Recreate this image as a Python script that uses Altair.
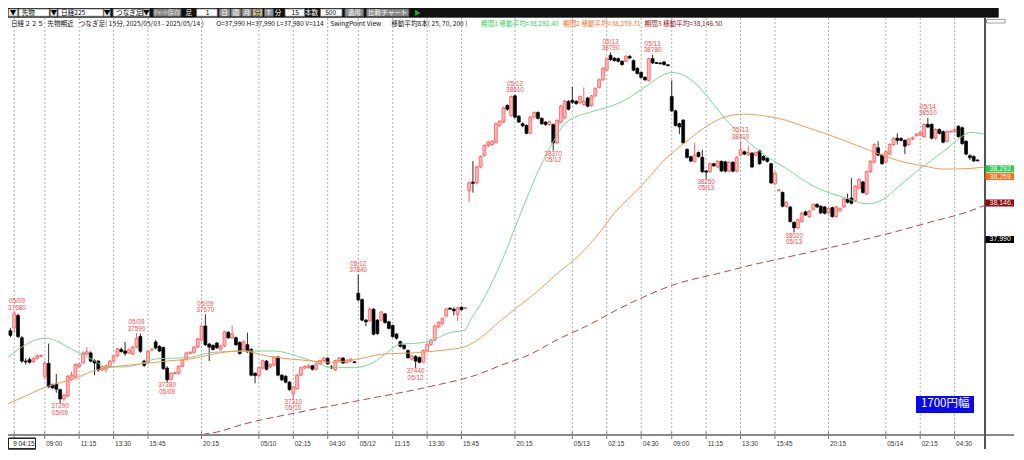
import altair as alt
import pandas as pd
import numpy as np

# ---------------- data ----------------
first_bar = -9  # bar index 0 = 05/09 09:00, 15-minute bars
opens = [37600,37612,37665,37570,37470,37476,37468,37482,37490,37405,
 37460,37368,37372,37348,37308,37320,37392,37402,37447,37462,
 37500,37505,37472,37470,37432,37435,37446,37470,37492,37520,
 37513,37505,37500,37530,37575,37470,37466,37518,37552,37533,
 37528,37440,37392,37418,37418,37448,37478,37503,37507,37530,
 37560,37620,37543,37537,37547,37520,37535,37593,37570,37570,
 37550,37520,37540,37520,37418,37408,37440,37470,37447,37452,
 37487,37410,37405,37380,37330,37352,37410,37440,37442,37450,
 37435,37458,37472,37482,37445,37432,37472,37483,37463,37470,
 37466,37760,37733,37645,37643,37692,37645,37645,37672,37638,
 37622,37585,37553,37538,37515,37479,37490,37485,37466,37515,
 37540,37560,37616,37630,37663,37695,37692,37670,37700,37695,
 38198,38235,38232,38300,38350,38392,38396,38405,38478,38492,
 38563,38520,38604,38517,38485,38478,38444,38513,38533,38508,
 38492,38481,38481,38403,38492,38510,38580,38585,38580,38574,
 38567,38595,38563,38604,38640,38673,38714,38777,38765,38763,
 38752,38752,38773,38755,38722,38704,38683,38670,38763,38745,
 38744,38749,38736,38601,38540,38485,38500,38375,38344,38324,
 38362,38341,38283,38280,38314,38300,38324,38322,38282,38320,
 38282,38351,38365,38352,38359,38350,38369,38345,38337,38314,
 38228,38200,38191,38132,38129,38063,38040,38067,38108,38088,
 38118,38140,38132,38129,38104,38126,38088,38113,38129,38163,
 38167,38156,38209,38236,38184,38280,38321,38382,38351,38321,
 38355,38396,38423,38422,38414,38396,38420,38435,38436,38430,
 38482,38482,38423,38460,38451,38410,38451,38451,38474,38468,
 38410,38348,38345,38328]
highs = [37612,37680,37672,37578,37482,37485,37486,37500,37498,37470,
 37545,37374,37415,37352,37330,37410,37425,37460,37462,37512,
 37530,37512,37478,37474,37450,37455,37474,37496,37526,37528,
 37552,37524,37535,37590,37588,37476,37516,37524,37560,37538,
 37532,37448,37422,37425,37452,37478,37508,37512,37534,37568,
 37625,37670,37548,37542,37552,37540,37600,37598,37622,37575,
 37555,37558,37592,37525,37422,37446,37476,37475,37460,37492,
 37492,37414,37410,37384,37365,37414,37446,37452,37455,37454,
 37462,37476,37487,37486,37452,37476,37487,37488,37478,37482,
 37468,37840,37738,37650,37697,37696,37650,37685,37676,37642,
 37626,37590,37558,37542,37520,37496,37495,37490,37520,37545,
 37565,37625,37640,37656,37698,37700,37700,37704,37704,37700,
 38238,38325,38305,38350,38396,38412,38415,38490,38500,38558,
 38568,38606,38610,38522,38490,38482,38518,38538,38538,38512,
 38496,38498,38486,38504,38566,38586,38586,38642,38586,38606,
 38640,38600,38608,38640,38678,38726,38768,38790,38770,38768,
 38756,38778,38778,38760,38726,38708,38688,38768,38780,38748,
 38747,38753,38739,38670,38545,38490,38505,38380,38348,38403,
 38366,38373,38287,38319,38318,38329,38328,38326,38325,38325,
 38346,38410,38370,38390,38364,38366,38374,38350,38341,38318,
 38278,38204,38196,38154,38133,38068,38079,38107,38113,38117,
 38145,38145,38137,38133,38127,38131,38134,38127,38168,38186,
 38252,38223,38251,38241,38285,38329,38401,38410,38356,38370,
 38401,38428,38444,38427,38418,38424,38430,38445,38452,38487,
 38510,38487,38465,38465,38456,38456,38456,38466,38479,38473,
 38414,38355,38350,38332]
lows = [37572,37590,37568,37462,37455,37460,37462,37476,37485,37395,
 37355,37350,37335,37290,37300,37315,37385,37398,37440,37458,
 37495,37465,37410,37425,37428,37420,37440,37466,37488,37506,
 37492,37500,37495,37525,37505,37445,37460,37514,37520,37508,
 37432,37380,37386,37412,37412,37444,37472,37498,37502,37525,
 37555,37535,37470,37515,37522,37515,37530,37565,37565,37535,
 37498,37515,37505,37405,37375,37400,37435,37430,37440,37448,
 37405,37385,37375,37343,37310,37348,37405,37436,37438,37430,
 37430,37454,37468,37454,37436,37428,37468,37458,37460,37466,
 37462,37725,37640,37620,37638,37580,37582,37640,37630,37605,
 37570,37562,37528,37518,37480,37474,37440,37460,37462,37510,
 37535,37555,37610,37625,37658,37690,37665,37640,37686,37692,
 38150,38190,38226,38295,38345,38385,38390,38400,38472,38488,
 38540,38515,38508,38488,38470,38440,38440,38508,38503,38480,
 38476,38476,38370,38398,38488,38505,38542,38570,38566,38570,
 38562,38555,38558,38600,38636,38668,38710,38754,38750,38747,
 38733,38748,38761,38709,38695,38678,38668,38665,38740,38741,
 38739,38734,38731,38535,38473,38440,38398,38336,38320,38319,
 38340,38275,38250,38275,38300,38295,38278,38277,38277,38277,
 38277,38346,38350,38347,38295,38345,38309,38325,38319,38227,
 38223,38196,38127,38127,38062,38020,38035,38062,38090,38083,
 38113,38124,38099,38097,38099,38083,38083,38108,38124,38144,
 38140,38151,38204,38186,38179,38275,38316,38346,38309,38316,
 38350,38391,38396,38409,38355,38391,38415,38430,38431,38425,
 38466,38418,38418,38439,38401,38405,38447,38446,38425,38395,
 38350,38330,38321,38324]
closes = [37580,37675,37575,37470,37466,37465,37482,37492,37494,37460,
 37360,37356,37350,37308,37325,37405,37410,37455,37458,37505,
 37510,37470,37462,37432,37446,37450,37470,37492,37522,37511,
 37503,37518,37530,37568,37512,37452,37512,37521,37526,37513,
 37438,37390,37418,37420,37448,37475,37505,37508,37530,37565,
 37620,37540,37530,37520,37527,37535,37595,37570,37585,37540,
 37502,37553,37510,37410,37408,37442,37472,37435,37455,37487,
 37410,37390,37380,37348,37360,37410,37442,37447,37450,37435,
 37458,37472,37483,37458,37441,37472,37483,37462,37474,37478,
 37464,37732,37645,37638,37692,37585,37588,37680,37635,37610,
 37575,37568,37533,37524,37485,37492,37470,37465,37515,37540,
 37560,37620,37636,37652,37693,37693,37685,37698,37690,37698,
 38232,38230,38300,38345,38392,38407,38410,38485,38495,38553,
 38547,38601,38513,38492,38476,38444,38513,38533,38508,38485,
 38481,38494,38403,38499,38560,38581,38547,38577,38571,38601,
 38580,38560,38604,38636,38673,38722,38763,38759,38755,38752,
 38738,38773,38766,38714,38700,38683,38673,38763,38745,38744,
 38742,38738,38734,38540,38478,38471,38403,38341,38325,38351,
 38345,38280,38278,38314,38305,38324,38283,38282,38320,38282,
 38341,38373,38355,38362,38300,38362,38314,38330,38324,38232,
 38273,38201,38132,38149,38067,38040,38074,38102,38095,38112,
 38140,38129,38104,38102,38122,38088,38129,38122,38163,38149,
 38145,38218,38246,38191,38280,38324,38396,38351,38314,38365,
 38396,38423,38414,38414,38389,38419,38425,38440,38447,38482,
 38471,38423,38460,38444,38406,38451,38452,38460,38430,38400,
 38355,38340,38326,38328]

tick_bars = [-8, 0, 9, 18, 27, 41, 56, 65, 74, 82, 91, 100, 109, 123, 138,
             147, 156, 164, 173, 182, 191, 205, 220, 229, 238]
tick_labels = ["", "09:00", "11:15", "13:30", "15:45", "20:15", "05/10", "02:15",
               "04:30", "05/12", "11:15", "13:30", "15:45", "20:15", "05/13",
               "02:15", "04:30", "09:00", "11:15", "13:30", "15:45", "20:15",
               "05/14", "02:15", "04:30"]
price_ticks = list(range(37200, 38801, 100))

swing_bars = [-8, 4, 24, 32, 42, 65, 82, 97, 123, 133, 148, 159, 173, 182, 196, 231]
swing_prices = [37680, 37290, 37590, 37380, 37670, 37310, 37840, 37440, 38610,
                38370, 38790, 38780, 38250, 38410, 38020, 38510]
swing_dates = ["05/09", "05/09", "05/09", "05/09", "05/09", "05/10", "05/12", "05/12",
               "05/12", "05/12", "05/13", "05/13", "05/13", "05/13", "05/13", "05/14"]
swing_kinds = ["H", "L", "H", "L", "H", "L", "H", "L", "H", "L", "H", "H", "L", "H", "L", "H"]

ma25_bars = [-10, 0, 8, 13, 16, 21, 25, 29, 38, 42, 46, 52, 60, 67, 71, 75, 81, 86, 89,
             93, 97, 101, 106, 110, 111, 114, 119, 124, 129, 134, 136, 143, 147, 152,
             157, 164, 169, 173, 177, 182, 188, 194, 201, 209, 215, 219, 223, 228,
             232, 236, 239, 242, 246]
ma25_values = [37480, 37568, 37513, 37472, 37445, 37445, 37458, 37479, 37486, 37502,
               37510, 37513, 37513, 37486, 37465, 37442, 37442, 37465, 37499, 37543,
               37546, 37557, 37592, 37602, 37635, 37713, 37877, 38082, 38280, 38436,
               38485, 38536, 38554, 38588, 38642, 38704, 38674, 38608, 38526, 38437,
               38355, 38293, 38218, 38170, 38143, 38159, 38211, 38280, 38329, 38378,
               38419, 38448, 38440]
ma70_bars = [-10, -5, -1, 3, 8, 12, 16, 21, 25, 29, 33, 38, 42, 46, 52, 58, 67, 75, 82,
             88, 97, 104, 110, 114, 119, 124, 129, 134, 140, 145, 149, 156, 162, 168,
             173, 178, 183, 188, 194, 199, 204, 209, 214, 219, 224, 230, 235, 240, 246]
ma70_values = [37285, 37321, 37351, 37373, 37396, 37424, 37442, 37451, 37458, 37465,
               37472, 37479, 37492, 37506, 37513, 37492, 37475, 37465, 37479, 37499,
               37506, 37516, 37532, 37570, 37640, 37705, 37770, 37844, 37926, 38017,
               38103, 38218, 38329, 38411, 38473, 38514, 38526, 38519, 38499, 38471,
               38444, 38414, 38382, 38351, 38324, 38304, 38291, 38292, 38300]
ma200_bars = [36, 41, 46, 50, 67, 84, 101, 114, 119, 127, 134, 142, 150, 158, 165,
              176, 186, 193, 204, 214, 222, 232, 240, 246]
ma200_values = [37115, 37154, 37170, 37191, 37253, 37307, 37362, 37417, 37450, 37499,
                37561, 37622, 37692, 37754, 37799, 37844, 37885, 37910, 37950, 37988,
                38021, 38066, 38101, 38136]

ma_header_values = ["38,292.40", "38,259.71", "38,146.50"]
axis_box_values = [38292, 38259, 38146, 37990]
axis_box_texts = ["38,292.", "38,259.", "38,146.", "37,990"]

# ---------------- layout helpers ----------------
SX = 1006 / 1024
SY = 442 / 460
W, H = 977, 417
PAD_TOP = 10


def px(x):
    return round(x * SX, 2)


def py(y):
    return round(y * SY - PAD_TOP, 2)


UP_FILL, UP_LINE, UP_WICK = "#ffb8b8", "#ff4a4a", "#ff5c5c"
DN_FILL, DN_WICK = "#000000", "#2a2a2a"
GRID = "#b0b0b0"
LABEL_FONT = "Liberation Sans"
JP_FONT = "Noto Sans CJK JP"

X_MIN, X_MAX = -9.63, 245.95
xs = alt.Scale(domain=[X_MIN, X_MAX], nice=False, zero=False)
ys = alt.Scale(domain=[37154, 38937], nice=False, zero=False)

# ---------------- frames ----------------
cd = pd.DataFrame({"k": list(range(first_bar, first_bar + len(opens))),
                   "o": opens, "h": highs, "l": lows, "c": closes})
lo = cd[["o", "c"]].min(axis=1)
hi = cd[["o", "c"]].max(axis=1)
mid = (cd.o + cd.c) / 2
thin = (hi - lo) < 4
cd["b0"] = np.where(thin, mid - 2, lo)
cd["b1"] = np.where(thin, mid + 2, hi)
cd["x0"] = cd.k - 0.38
cd["x1"] = cd.k + 0.38
cd["dir"] = np.where(cd.c > cd.o, "up", "down")

ticks = pd.DataFrame({"k": tick_bars, "lab": tick_labels})
sw = pd.DataFrame({"k": swing_bars, "p": swing_prices, "date": swing_dates,
                   "kind": swing_kinds})
sw["ptxt"] = sw.p.astype(str)
sw["lx"] = sw.k.clip(lower=X_MIN + 2.35)   # keep the first label inside the frame

ma25 = pd.DataFrame({"k": ma25_bars, "v": ma25_values})
ma70 = pd.DataFrame({"k": ma70_bars, "v": ma70_values})
ma200 = pd.DataFrame({"k": ma200_bars, "v": ma200_values})

yaxis = alt.Axis(orient="right", values=price_ticks, labelExpr="format(datum.value, ',') + '.'",
                 grid=True, gridDash=[2, 2], gridColor=GRID, gridWidth=1, domain=False,
                 ticks=True, tickSize=3, tickColor="#777", labelFont=LABEL_FONT,
                 labelFontSize=7, labelColor="#333", labelPadding=1.5, title=None,
                 labelOverlap=False)

layers = []

# y axis carrier
layers.append(alt.Chart(pd.DataFrame({"v": price_ticks})).mark_point(opacity=0).encode(
    y=alt.Y("v:Q", scale=ys, axis=yaxis)))

# vertical grid
layers.append(alt.Chart(ticks).mark_rule(color=GRID, strokeDash=[2, 2], strokeWidth=1).encode(
    x=alt.X("k:Q", scale=xs, axis=None), y=alt.value(0), y2=alt.value(H)))

# candles
for d, wick in (("up", UP_WICK), ("down", DN_WICK)):
    layers.append(alt.Chart(cd).transform_filter(f"datum.dir == '{d}'").mark_rule(
        color=wick, strokeWidth=1).encode(
        x=alt.X("k:Q", scale=xs, axis=None),
        y=alt.Y("l:Q", scale=ys, axis=None), y2="h:Q"))
for d, fill, line in (("up", UP_FILL, UP_LINE), ("down", DN_FILL, DN_FILL)):
    layers.append(alt.Chart(cd).transform_filter(f"datum.dir == '{d}'").mark_rect(
        fill=fill, stroke=line, strokeWidth=0.7).encode(
        x=alt.X("x0:Q", scale=xs, axis=None), x2="x1:Q",
        y=alt.Y("b0:Q", scale=ys, axis=None), y2="b1:Q"))

# moving averages
for frame, col, dash in ((ma25, "#79d896", None), (ma70, "#f39a55", None),
                         (ma200, "#b04848", [7, 4])):
    kw = dict(color=col, strokeWidth=1, interpolate="monotone", clip=True)
    if dash:
        kw["strokeDash"] = dash
    layers.append(alt.Chart(frame).mark_line(**kw).encode(
        x=alt.X("k:Q", scale=xs, axis=None), y=alt.Y("v:Q", scale=ys, axis=None)))

# swing point labels
SWC = "#ff4a4a"
for kind, field, dy in (("H", "date", -10.8), ("H", "ptxt", -4.4),
                        ("L", "ptxt", 3.2), ("L", "date", 9.6)):
    layers.append(alt.Chart(sw).transform_filter(f"datum.kind == '{kind}'").mark_text(
        dy=dy, fontSize=6.4, font=LABEL_FONT, color=SWC, baseline="middle").encode(
        x=alt.X("lx:Q", scale=xs, axis=None), y=alt.Y("p:Q", scale=ys, axis=None),
        text=f"{field}:N"))

# x axis (manual)
layers.append(alt.Chart(ticks).mark_rule(color="#777").encode(
    x=alt.X("k:Q", scale=xs, axis=None), y=alt.value(H - 3), y2=alt.value(H + 4)))
layers.append(alt.Chart(ticks).mark_text(align="left", dx=1.5, baseline="middle",
                                         fontSize=6.4, font=LABEL_FONT, color="#333").encode(
    x=alt.X("k:Q", scale=xs, axis=None), y=alt.value(H + 9), text="lab:N"))
layers.append(alt.Chart(ticks).mark_rule(color="#888").encode(
    x=alt.value(0), x2=alt.value(1006), y=alt.value(H)))
layers.append(alt.Chart(ticks).mark_rule(color="#555").encode(
    x=alt.value(W), y=alt.value(0), y2=alt.value(H + 14)))

# right axis value boxes
vb = pd.DataFrame({"v": axis_box_values, "t": axis_box_texts,
                   "fill": ["#2ec85a", "#ff6a10", "#8a0c0c", "#000000"],
                   "tc": ["#eaffea", "#ffffff", "#ffe8e8", "#ffffff"]})
layers.append(alt.Chart(vb).transform_calculate(top="datum.v + 15", bot="datum.v - 15").mark_rect().encode(
    x=alt.value(W + 0.5), x2=alt.value(W + 29),
    y=alt.Y("top:Q", scale=ys, axis=None), y2="bot:Q",
    fill=alt.Fill("fill:N", scale=None)))
layers.append(alt.Chart(vb).mark_text(align="left", baseline="middle", fontSize=7,
                                      font=LABEL_FONT).encode(
    x=alt.value(W + 4.5), y=alt.Y("v:Q", scale=ys, axis=None), text="t:N",
    color=alt.Color("tc:N", scale=None)))

# blue range badge
layers.append(alt.Chart(ticks).mark_rect(fill="#0a0aee").encode(
    x=alt.value(px(925)), x2=alt.value(px(983)), y=alt.value(py(404)), y2=alt.value(py(421))))
layers.append(alt.Chart(pd.DataFrame({"t": ["1700円幅"]})).mark_text(
    fontSize=11.5, font=JP_FONT, color="white", baseline="middle", align="center").encode(
    x=alt.value(px(954)), y=alt.value(py(412.5)), text="t:N"))

# cursor box at bottom-left
layers.append(alt.Chart(ticks).mark_rect(fill="white", stroke="#222", strokeWidth=1).encode(
    x=alt.value(0.5), x2=alt.value(px(28)), y=alt.value(py(448)), y2=alt.value(py(458.5))))
layers.append(alt.Chart(pd.DataFrame({"t": ["9 04:15"]})).mark_text(
    fontSize=6.4, font=LABEL_FONT, color="#111", align="right", baseline="middle").encode(
    x=alt.value(px(27)), y=alt.value(py(453.3)), text="t:N"))

# toolbar
tb_rects = pd.DataFrame([
    (-2, 1008, 0, 9.6, "#111111", "#111111"),
    (0.5, 10, 1, 8.6, "#ececec", "#707070"),
    (11, 42, 1, 8.6, "#ffffff", "#707070"),
    (43, 50, 1, 8.6, "#ececec", "#707070"),
    (51, 97, 1, 8.6, "#ffffff", "#707070"),
    (97.5, 104, 1, 8.6, "#ececec", "#707070"),
    (107, 137, 1, 8.6, "#ffffff", "#707070"),
    (137.5, 144, 1, 8.6, "#ececec", "#707070"),
    (148, 176, 1, 8.6, "#8c8c8c", "#5c5c5c"),
    (192, 213, 1, 8.6, "#ffffff", "#707070"),
    (215, 226, 1, 8.6, "#9a9a9a", "#5c5c5c"),
    (227, 237, 1, 8.6, "#9a9a9a", "#5c5c5c"),
    (238, 248, 1, 8.6, "#9a9a9a", "#5c5c5c"),
    (249, 259, 1, 8.6, "#cfc08a", "#5c5c5c"),
    (261, 270, 1, 8.6, "#9a9a9a", "#5c5c5c"),
    (282, 302, 1, 8.6, "#ffffff", "#707070"),
    (318, 340, 1, 8.6, "#ffffff", "#707070"),
    (343, 362, 1, 8.6, "#8c8c8c", "#5c5c5c"),
    (365, 408, 1, 8.6, "#8c8c8c", "#5c5c5c"),
    (996, 1015, 12, 15.6, "#ffffff", "#888888"),
], columns=["x0", "x1", "y0", "y1", "fill", "stroke"])
for c in ("x0", "x1"):
    tb_rects[c] = tb_rects[c].map(px)
for c in ("y0", "y1"):
    tb_rects[c] = tb_rects[c].map(py)
layers.append(alt.Chart(tb_rects).mark_rect(strokeWidth=0.8).encode(
    x=alt.X("x0:Q", scale=None, axis=None), x2="x1:Q",
    y=alt.Y("y0:Q", scale=None, axis=None), y2="y1:Q",
    fill=alt.Fill("fill:N", scale=None), stroke=alt.Stroke("stroke:N", scale=None)))

tb_text = pd.DataFrame([
    (5.2, "▼", "#000000", "center"),
    (14, "先物", "#000000", "left"),
    (46.5, "▼", "#000000", "center"),
    (54, "日経225", "#000000", "left"),
    (100.8, "▼", "#000000", "center"),
    (110, "つなぎ足", "#000000", "left"),
    (140.8, "▼", "#000000", "center"),
    (162, "ﾁｬｰﾄ保存", "#d8d8d8", "center"),
    (184, "足", "#ffffff", "center"),
    (205, "1", "#000000", "right"),
    (220.5, "日", "#ffffff", "center"),
    (232, "週", "#ffffff", "center"),
    (243, "月", "#ffffff", "center"),
    (254, "分", "#202020", "center"),
    (265.5, "T", "#ffffff", "center"),
    (275, "分", "#ffffff", "center"),
    (296, "15", "#000000", "right"),
    (309, "本数", "#ffffff", "center"),
    (334, "500", "#000000", "right"),
    (352.5, "適用", "#ffffff", "center"),
    (386.5, "比較チャート", "#ffffff", "center"),
    (417, "▶", "#2aa52a", "center"),
], columns=["x", "t", "col", "al"])
tb_text["x"] = tb_text["x"].map(px)
for al in ("left", "center", "right"):
    sub = tb_text[tb_text.al == al]
    layers.append(alt.Chart(sub).mark_text(align=al, baseline="middle", fontSize=6.6,
                                           font=JP_FONT).encode(
        x=alt.X("x:Q", scale=None, axis=None), y=alt.value(py(4.9)), text="t:N",
        color=alt.Color("col:N", scale=None)))

# header line
hdr = pd.DataFrame([
    (3, "日経２２５"),
    (40, "先物期近"),
    (72, "つなぎ足( 15分, 2025/05/03 - 2025/05/14 )"),
    (212, "O=37,990 H=37,990 L=37,980 V=114"),
    (328, "SwingPoint View"),
    (390, "移動平均8本( 25, 70, 200 )"),
], columns=["x", "t"])
hdr["col"] = "#111111"
hdr2 = pd.DataFrame({"x": [481.5, 565, 648],
                     "t": [f"期間{i + 1} 移動平均={v}" for i, v in enumerate(ma_header_values)],
                     "col": ["#2fcf4f", "#ff6a1a", "#9a1010"]})
hdr = pd.concat([hdr, hdr2], ignore_index=True)
hdr["x"] = hdr["x"].map(px)
layers.append(alt.Chart(hdr).mark_text(align="left", baseline="middle", fontSize=6.6,
                                       font=JP_FONT).encode(
    x=alt.X("x:Q", scale=None, axis=None), y=alt.value(py(16.2)), text="t:N",
    color=alt.Color("col:N", scale=None)))

chart = alt.layer(*layers).properties(
    width=W, height=H,
    padding={"left": 0, "top": PAD_TOP, "right": 1006 - W, "bottom": 442 - PAD_TOP - H},
    autosize=alt.AutoSizeParams(type="none"),
    background="white",
).configure_view(stroke=None)

chart.save("out.html", embed_options={"renderer": "svg", "actions": False})
